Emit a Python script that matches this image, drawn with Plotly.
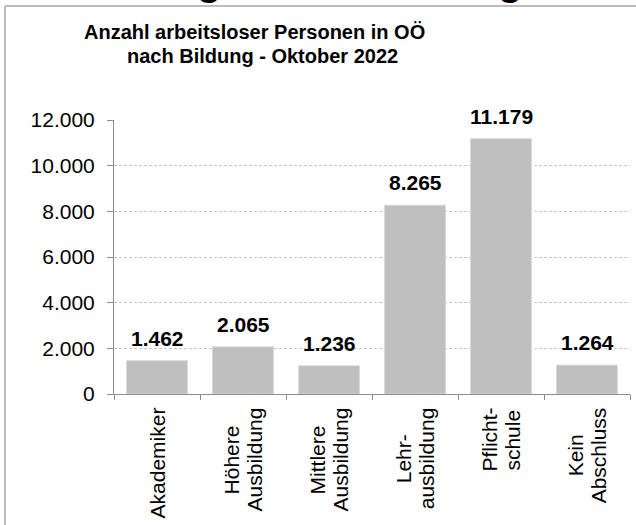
import plotly.graph_objects as go

# ---- data ----
categories = ["Akademiker", "Höhere<br>Ausbildung", "Mittlere<br>Ausbildung",
              "Lehr-<br>ausbildung", "Pflicht-<br>schule", "Kein<br>Abschluss"]
values = [1462, 2065, 1236, 8265, 11179, 1264]
title_lines = ["Anzahl arbeitsloser Personen in OÖ", "nach Bildung - Oktober 2022"]
y_ticks = [0, 2000, 4000, 6000, 8000, 10000, 12000]

# ---- layout constants ----
W, H = 636, 525
ML, MR, MT, MB = 114, 6, 120, 131
PW, PH = W - ML - MR, H - MT - MB
FONT = "Liberation Sans, Arial, sans-serif"
BAR_COLOR = "#BFBFBF"
FRAME = "#A6A6A6"


def px_x(p):
    return (p - ML) / PW


def px_y(p):
    return (MT + PH - p) / PH


# approximate Arial advance widths (per 1000 em) to centre rotated lines
AW = {"A": 667, "K": 667, "H": 722, "M": 833, "L": 556, "P": 667,
      "a": 556, "b": 556, "c": 500, "d": 556, "e": 556, "f": 278, "g": 556,
      "h": 556, "i": 222, "k": 500, "l": 222, "m": 833, "n": 556, "o": 556,
      "r": 333, "s": 500, "t": 278, "u": 556, "ö": 556, "-": 333}


def text_len(s, fs):
    return sum(AW.get(c, 556) for c in s) / 1000 * fs


fig = go.Figure()
fig.add_trace(go.Bar(
    x=categories, y=values,
    marker=dict(color=BAR_COLOR, line=dict(color="#D9D9D9", width=1)),
    hoverinfo="skip",
))

ann = []
# value labels
for c, v in zip(categories, values):
    ann.append(dict(
        x=c, y=v, xref="x", yref="y", yanchor="bottom", xanchor="center",
        text=f"{v:,}".replace(",", "."), showarrow=False, yshift=9,
        font=dict(family=FONT, size=21, color="black", weight="bold"),
    ))

# category labels (rotated, lines centred to each other)
LAB_FS = 21
for i, c in enumerate(categories):
    lines = c.split("<br>")
    L = max(text_len(s, LAB_FS) for s in lines)
    cy = 408 + L / 2
    n = len(lines)
    for j, s in enumerate(lines):
        ann.append(dict(
            x=c, y=px_y(cy), xref="x", yref="paper",
            xanchor="center", yanchor="middle", textangle=-90,
            xshift=(j - (n - 1) / 2) * 23,
            text=s, showarrow=False,
            font=dict(family=FONT, size=LAB_FS, color="black"),
        ))

# chart title (two lines)
for s, cx, yb in zip(title_lines, [254, 262], [45, 69]):
    ann.append(dict(
        x=px_x(cx), y=px_y(yb), xref="paper", yref="paper",
        xanchor="center", yanchor="bottom", text=s, showarrow=False,
        font=dict(family=FONT, size=20, color="black", weight="bold"),
    ))

# clipped heading above the frame (only descenders visible)
for cx in [209, 510]:
    ann.append(dict(
        x=px_x(cx), y=px_y(5), xref="paper", yref="paper",
        xanchor="center", yanchor="bottom", text="g", showarrow=False,
        font=dict(family=FONT, size=40, color="black", weight="bold"),
    ))

# frame: left and top edges only (the rest lies outside the picture)
frame_lines = [
    dict(x0=px_x(5), x1=px_x(5), y0=px_y(H), y1=px_y(6)),
    dict(x0=px_x(5), x1=px_x(W), y0=px_y(6), y1=px_y(6)),
]
shapes = [dict(type="line", xref="paper", yref="paper",
               line=dict(color=FRAME, width=1.5), layer="above", **fl)
          for fl in frame_lines]

fig.update_layout(
    width=W, height=H,
    margin=dict(l=ML, r=MR, t=MT, b=MB, pad=0),
    paper_bgcolor="white", plot_bgcolor="white",
    separators=",.",
    showlegend=False,
    bargap=0.29,
    font=dict(family=FONT, size=21, color="black"),
    annotations=ann,
    shapes=shapes,
    xaxis=dict(
        showticklabels=False, showgrid=False,
        showline=True, linecolor="#8C8C8C", linewidth=1,
        ticks="outside", tickson="boundaries", ticklen=5, tickcolor="#8C8C8C",
        fixedrange=True,
    ),
    yaxis=dict(
        range=[0, 12000], tickvals=y_ticks, tickformat=",d",
        showline=True, linecolor="#8C8C8C", linewidth=1,
        ticks="outside", ticklen=6, tickcolor="#8C8C8C",
        showgrid=True, gridcolor="#C8C8C8", griddash="3px,2px", gridwidth=1,
        zeroline=False, ticklabelstandoff=8,
        tickfont=dict(family=FONT, size=21, color="black"),
        fixedrange=True,
    ),
)

fig.write_html(
    "out.html", config={"displayModeBar": False},
    post_script="document.body.style.margin='0';"
                "document.body.style.overflow='hidden';",
)
